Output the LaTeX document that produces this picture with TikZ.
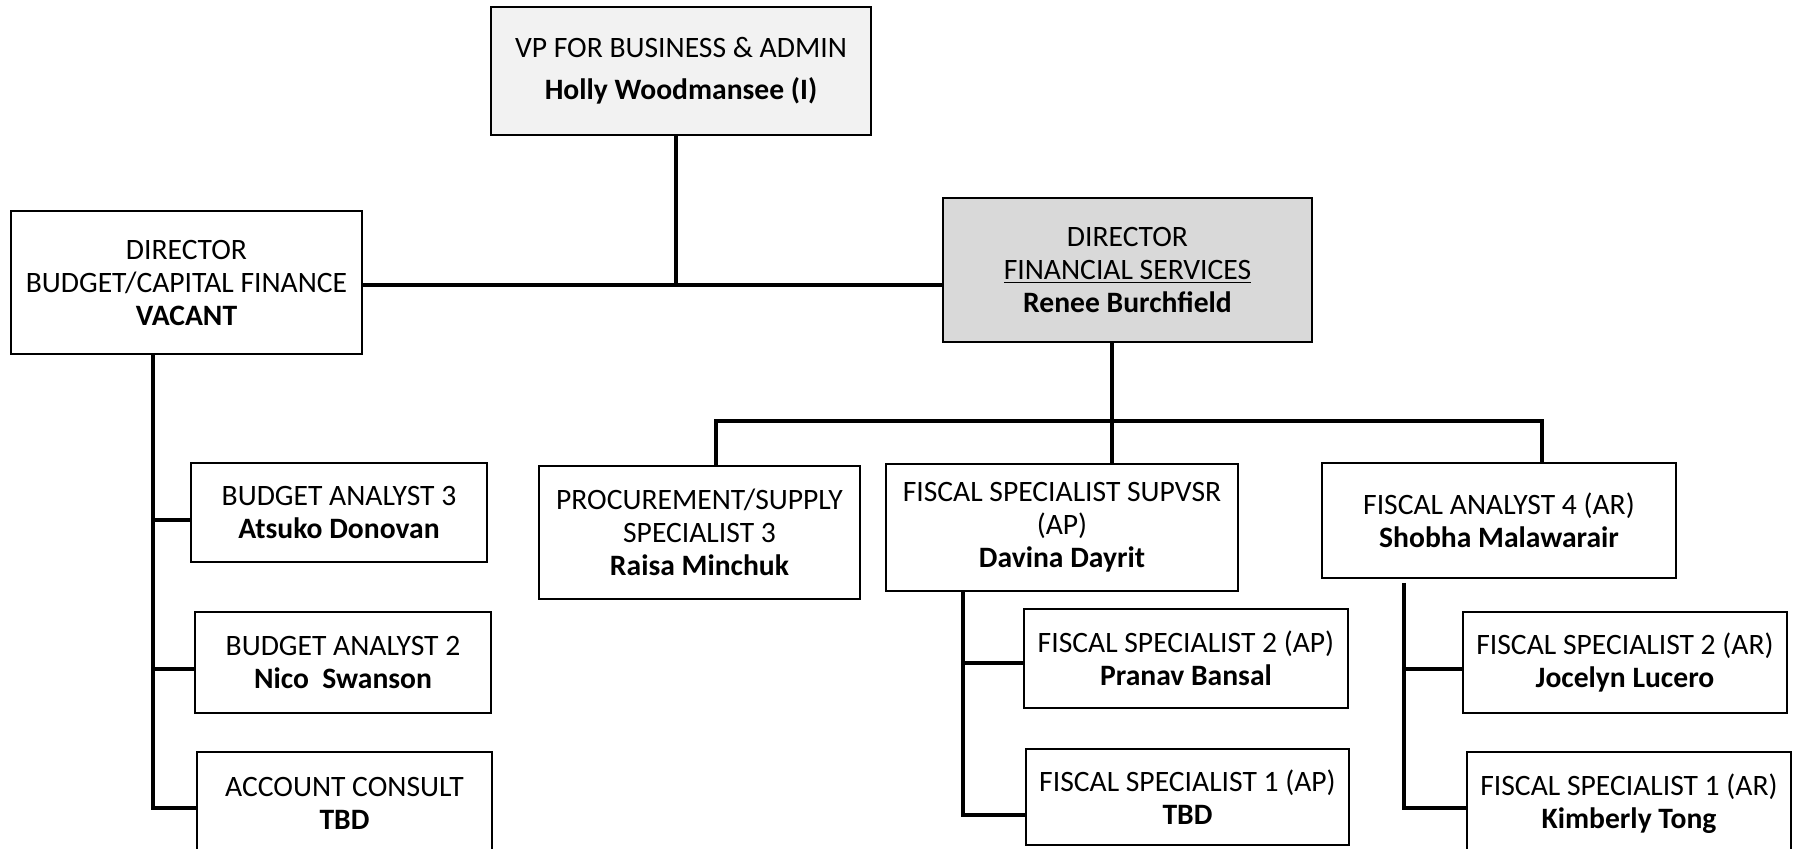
\documentclass[tikz,border=0pt]{standalone}
\usepackage{fontspec}
\setmainfont{Carlito}
\usetikzlibrary{calc, shapes}

\definecolor{vpgray}{HTML}{F2F2F2}
\definecolor{fdgray}{HTML}{D9D9D9}

\begin{document}
\begin{tikzpicture}[x=0.5pt, y=-0.5pt,
    ob/.style={rectangle, draw, line width=0.75pt, inner sep=0pt, align=center,
               font=\fontsize{14.8}{16.5}\selectfont},
    ln/.style={line width=2.2pt}]
            \useasboundingbox (0,0) rectangle (1794,848);
            \clip (0,0) rectangle (1794,848);

            \draw (681,71)     node[ob, fill=vpgray, minimum width=190pt, minimum height=64pt](vp){VP FOR BUSINESS \& ADMIN\\[4.5pt]\textbf{Holly Woodmansee (I)}};
            \draw (186.5,282.5) node[ob, minimum width=175.5pt, minimum height=71.5pt](bd){DIRECTOR\\BUDGET/CAPITAL FINANCE\\\textbf{VACANT}};
            \draw (1127.5,270) node[ob, fill=fdgray, minimum width=184.5pt, minimum height=72pt](fd){DIRECTOR\\\underline{FINANCIAL SERVICES}\\\textbf{Renee Burchfield}};

            \draw (699.5,532.5) node[ob, minimum width=160.5pt, minimum height=66.5pt](pr){PROCUREMENT/SUPPLY\\SPECIALIST 3\\\textbf{Raisa Minchuk}};
            \draw (1062,527.5)  node[ob, minimum width=176pt, minimum height=63.5pt](fs){FISCAL SPECIALIST SUPVSR\\(AP)\\\textbf{Davina Dayrit}};
            \draw (1499,520.5)  node[ob, minimum width=177pt, minimum height=57.5pt](fa){FISCAL ANALYST 4 (AR)\\\textbf{Shobha Malawarair}};

            \draw (339,512.5)   node[ob, minimum width=148pt, minimum height=49.5pt](ba3){BUDGET ANALYST 3\\\textbf{Atsuko Donovan}};
            \draw (343,662.5)   node[ob, minimum width=148pt, minimum height=50.5pt](ba2){BUDGET ANALYST 2\\\textbf{Nico\ \ Swanson}};
            \draw (344.5,803.5) node[ob, minimum width=147.5pt, minimum height=51.5pt](ac){ACCOUNT CONSULT\\\textbf{TBD}};

            \draw (1186,658.5)  node[ob, minimum width=162pt, minimum height=49.5pt](fs2p){FISCAL SPECIALIST 2 (AP)\\\textbf{Pranav Bansal}};
            \draw (1187.5,797)  node[ob, minimum width=161.5pt, minimum height=48pt](fs1p){FISCAL SPECIALIST 1 (AP)\\\textbf{TBD}};
            \draw (1625,662.5)  node[ob, minimum width=162pt, minimum height=50.5pt](fs2r){FISCAL SPECIALIST 2 (AR)\\\textbf{Jocelyn Lucero}};
            \draw (1629,803.5)  node[ob, minimum width=162pt, minimum height=51.5pt](fs1r){FISCAL SPECIALIST 1 (AR)\\\textbf{Kimberly Tong}};

            % junctions
            \coordinate (vpj)  at (676,285);
            \coordinate (fsj)  at (1112,421);
            \coordinate (busl) at (716,421);
            \coordinate (busr) at (1542,421);

            \coordinate (bd1) at (153,520);
            \coordinate (bd2) at (153,669);
            \coordinate (bd3) at (153,808);
            \coordinate (fs1) at (963,663);
            \coordinate (fs2) at (963,815);
            \coordinate (fa1) at (1404,669);
            \coordinate (fa2) at (1404,808);

            \begin{scope}[ln]
                \draw (vp.south -| vpj) -- (vpj);
                \draw (bd.east |- vpj) -- (fd.west |- vpj);

                \draw (fd.south -| fsj) -- (fsj |- fs.north);
                \draw (busl |- pr.north) -- (busl) -- (busr) -- (busr |- fa.north);

                \draw (bd3 |- bd.south) -- (bd3) -- (bd3 -| ac.west);
                \draw (bd1) -- (bd1 -| ba3.west);
                \draw (bd2) -- (bd2 -| ba2.west);

                \draw (fs2 |- fs.south) -- (fs2) -- (fs2 -| fs1p.west);
                \draw (fs1) -- (fs1 -| fs2p.west);

                \draw ([yshift=-2pt]fa2 |- fa.south) -- (fa2) -- (fa2 -| fs1r.west);
                \draw (fa1) -- (fa1 -| fs2r.west);
            \end{scope}
        \end{tikzpicture}
\end{document}
